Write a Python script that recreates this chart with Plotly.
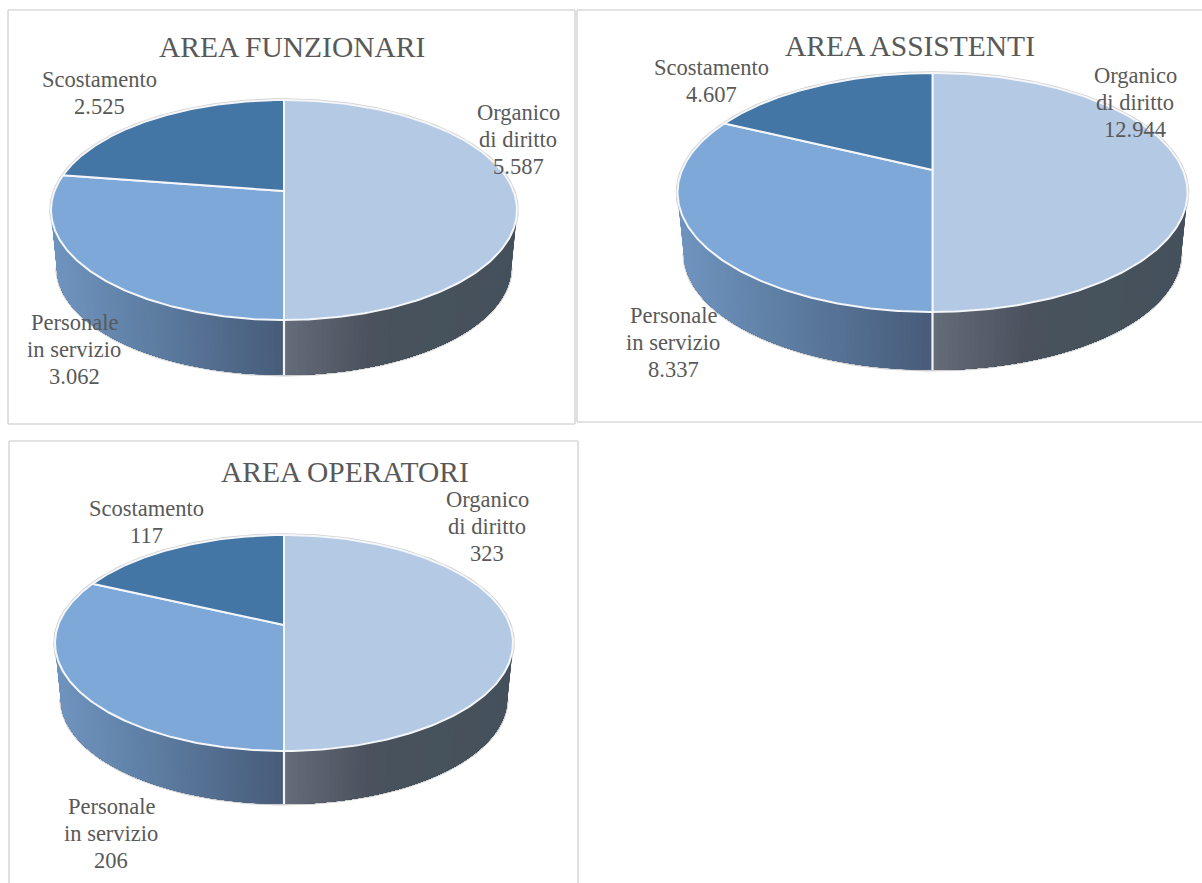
import numpy as np
import plotly.graph_objects as go

# ---------- data ----------
titles = ["AREA FUNZIONARI", "AREA ASSISTENTI", "AREA OPERATORI"]
categories = [["Organico", "di diritto"], ["Personale", "in servizio"], ["Scostamento"]]
funzionari = [5587, 3062, 2525]
assistenti = [12944, 8337, 4607]
operatori = [323, 206, 117]
series = [funzionari, assistenti, operatori]

# ---------- styling / layout (pixels on the page-wide axes) ----------
top_colors = ["#b4c9e4", "#7ea8d8", "#4375a5"]
# horizontal wall gradients: (fraction across half width, colour)
wall_ramps = [
    [(0.0, (102, 109, 122)), (0.38, (75, 82, 94)), (0.5, (71, 82, 92)), (1.0, (69, 81, 92))],
    [(0.0, (112, 149, 192)), (0.5, (91, 122, 158)), (1.0, (72, 92, 122))],
    [(0.0, (67, 117, 165)), (1.0, (50, 90, 130))],
]
geom = [
    dict(cx=284, hw=233, top=100, front=320, apex=191, base=375),
    dict(cx=932.5, hw=255, top=73, front=312, apex=170, base=370),
    dict(cx=284, hw=229, top=535, front=751, apex=625, base=804),
]
title_pos = [(292, 47), (910, 46), (345, 472)]
label_pos = [
    [(518, 139), (74, 349), (99, 93)],
    [(1135, 102), (673, 342), (711, 81)],
    [(487, 526), (111, 833), (146, 522)],
]
frames = [
    (8, 10, 575, 424, "LTRB"),
    (577, 10, 1203, 422, "LTB"),
    (9, 441, 578, 890, "LTR"),
]
TEXT = "#595959"
FONT = "Liberation Serif"
WALL_SHRINK = 0.975
LABEL_SIZE = 22.5
LINE_STEP = 27


def rim(theta, p, s=1.0, yc=None):
    """Perspective-projected circle; theta in degrees clockwise from the back."""
    t = np.radians(theta)
    u, v = np.sin(t), -np.cos(t)
    w = 1 - p["k"] * v
    y0 = p["apex"] if yc is None else yc
    return p["cx"] + s * p["a"] * u / w, y0 + s * p["b"] * v / w


def ramp_color(ramp, f):
    f = min(max(f, 0), 1)
    for (f0, c0), (f1, c1) in zip(ramp, ramp[1:]):
        if f <= f1:
            m = (f - f0) / (f1 - f0)
            return "rgb(%d,%d,%d)" % tuple(round(a + (b - a) * m) for a, b in zip(c0, c1))
    return "rgb(%d,%d,%d)" % ramp[-1][1]


def poly(fig, x, y, fill, line=None, width=1.0, closed=True):
    fig.add_trace(go.Scatter(
        x=list(x), y=list(y), mode="lines",
        fill="toself" if closed else None,
        fillcolor=fill if closed else None,
        line=dict(color=line or fill, width=width),
        hoverinfo="skip", showlegend=False,
    ))


fig = go.Figure()

for values, g in zip(series, geom):
    back = g["apex"] - g["top"]
    fr = g["front"] - g["apex"]
    k = (fr - back) / (fr + back)
    p = dict(g, k=k, b=fr * (1 - k), a=g["hw"] * np.sqrt(1 - k * k))
    total = sum(values)
    edges = np.concatenate([[0.0], np.cumsum(values) / total * 360.0])
    theta_r = np.degrees(np.arccos(-k))
    theta_l = 360 - theta_r
    yc_low = g["base"] - WALL_SHRINK * p["b"] / (1 - k)

    # outer edge of wall and disc
    th = np.linspace(theta_r, theta_l, 160)
    xl, yl = rim(th, p, WALL_SHRINK, yc_low)
    poly(fig, xl, yl, None, "#cfcfcf", 3.0, closed=False)
    th_all = np.linspace(0, 360, 361)
    xt, yt = rim(th_all, p)
    poly(fig, xt, yt, None, "#cfcfcf", 3.5, closed=False)

    # walls: painted strip over strip, each reaching the wedge end, so no seams show
    for i in range(len(values)):
        lo, hi = max(edges[i], theta_r), min(edges[i + 1], theta_l)
        if hi <= lo:
            continue
        steps = np.linspace(lo, hi, int((hi - lo) / 1.0) + 2)
        left_side = lo >= 180
        # paint from the side of the wedge outward
        order = steps[:-1]
        for t0 in order:
            ts = np.linspace(t0, hi, 40)
            xa, ya = rim(ts, p)
            xb, yb = rim(ts[::-1], p, WALL_SHRINK, yc_low)
            xm = (xa[0] + xb[-1]) / 2
            if left_side:
                f = (xm - (g["cx"] - g["hw"])) / g["hw"]
            else:
                f = (xm - g["cx"]) / g["hw"]
            c = ramp_color(wall_ramps[i], f)
            poly(fig, np.r_[xa, xb, xa[0]], np.r_[ya, yb, ya[0]], c, c, 0.0)

    # white separators on the wall
    for e in edges:
        if theta_r < e < theta_l:
            xa, ya = rim(e, p)
            xb, yb = rim(e, p, WALL_SHRINK, yc_low)
            poly(fig, [xa, xb], [ya, yb], None, "#f2f4f7", 2.2, closed=False)

    # top face wedges
    for i, col in enumerate(top_colors):
        th = np.linspace(edges[i], edges[i + 1], 180)
        xw, yw = rim(th, p)
        poly(fig, np.r_[g["cx"], xw, g["cx"]], np.r_[g["apex"], yw, g["apex"]], col, "#f4f6f9", 2.0)

# chart frames
shapes = []
for x0, y0, x1, y1, sides in frames:
    segs = {"L": (x0, y0, x0, y1), "R": (x1, y0, x1, y1), "T": (x0, y0, x1, y0), "B": (x0, y1, x1, y1)}
    for s in sides:
        a, b, c, d = segs[s]
        shapes.append(dict(type="line", xref="x", yref="y", x0=a, y0=b, x1=c, y1=d,
                           line=dict(color="#d9d9d9", width=1.6), layer="below"))

# text
annotations = []
for title, (tx, ty) in zip(titles, title_pos):
    annotations.append(dict(x=tx, y=ty, xref="x", yref="y", text=title, showarrow=False,
                            font=dict(family=FONT, size=29.5, color=TEXT)))
for values, positions in zip(series, label_pos):
    for cat, v, (lx, ly) in zip(categories, values, positions):
        lines = cat + [f"{v:,}".replace(",", ".")]
        y_first = ly - LINE_STEP * (len(lines) - 1) / 2
        for n, txt in enumerate(lines):
            annotations.append(dict(x=lx, y=y_first + n * LINE_STEP, xref="x", yref="y", text=txt,
                                    showarrow=False,
                                    font=dict(family=FONT, size=LABEL_SIZE, color=TEXT)))

fig.update_layout(
    width=1202, height=883, margin=dict(l=0, r=0, t=0, b=0),
    paper_bgcolor="white", plot_bgcolor="white", showlegend=False,
    xaxis=dict(range=[0, 1202], visible=False, fixedrange=True),
    yaxis=dict(range=[883, 0], visible=False, fixedrange=True),
    shapes=shapes, annotations=annotations,
)
fig.write_html("out.html", config=dict(displayModeBar=False),
               post_script="document.body.style.margin='0';document.body.style.overflow='hidden';")
